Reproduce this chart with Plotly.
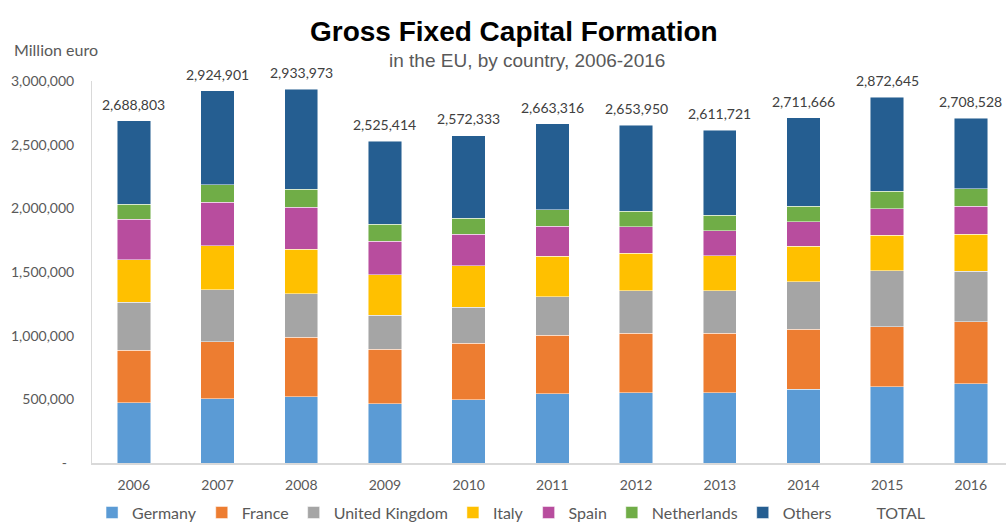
import plotly.graph_objects as go

years = ["2006", "2007", "2008", "2009", "2010", "2011", "2012", "2013", "2014", "2015", "2016"]

germany = [472000, 504000, 520000, 467000, 498000, 543000, 551000, 551000, 580000, 598000, 622000]
france = [415000, 449000, 469000, 428000, 444000, 462000, 469000, 469000, 470000, 473000, 488000]
united_kingdom = [375000, 406000, 342000, 267000, 283000, 299000, 331000, 331000, 375000, 438000, 396000]
italy = [336000, 347000, 349000, 315000, 323000, 320000, 297000, 276000, 276000, 278000, 289000]
spain = [315000, 341000, 328000, 263000, 247000, 234000, 207000, 197000, 194000, 210000, 221000]
netherlands = [121000, 137000, 142000, 136000, 129000, 129000, 124000, 121000, 123000, 137000, 138000]
others = [655000, 741000, 784000, 649000, 648000, 676000, 675000, 667000, 694000, 739000, 555000]
totals = [2688803, 2924901, 2933973, 2525414, 2572333, 2663316, 2653950, 2611721, 2711666, 2872645, 2708528]

series = [
    ("Germany", germany, "#5B9BD5"),
    ("France", france, "#ED7D31"),
    ("United Kingdom", united_kingdom, "#A5A5A5"),
    ("Italy", italy, "#FFC000"),
    ("Spain", spain, "#B84D9E"),
    ("Netherlands", netherlands, "#70AD47"),
    ("Others", others, "#255E91"),
]

y_tickvals = [0, 500000, 1000000, 1500000, 2000000, 2500000, 3000000]
y_ticktext = ["-\u00a0\u00a0", "500,000", "1,000,000", "1,500,000", "2,000,000", "2,500,000", "3,000,000"]

FONT = "Lato, 'Open Sans', sans-serif"

fig = go.Figure()
for name, vals, color in series:
    fig.add_trace(go.Bar(
        x=years, y=vals, name=name,
        marker=dict(color=color, line=dict(color="rgba(255,255,255,0.6)", width=0.8)),
        width=0.4,
    ))

# TOTAL legend entry (invisible line)
fig.add_trace(go.Scatter(
    x=years, y=totals, name="TOTAL", mode="lines",
    line=dict(color="rgba(0,0,0,0)", width=0),
    hoverinfo="skip",
))

annotations = []
for i, t in enumerate(totals):
    annotations.append(dict(
        x=i, y=t, xref="x", yref="y", text=f"{t:,}", showarrow=False,
        yanchor="bottom", yshift=6, font=dict(family=FONT, size=14, color="#404040"),
    ))

annotations += [
    dict(text="<b>Gross Fixed Capital Formation</b>", xref="paper", yref="paper",
         x=0.4617, y=1.1308, xanchor="center", yanchor="middle", showarrow=False,
         font=dict(family="Liberation Sans, Arial, sans-serif", size=28, color="#000000")),
    dict(text="in the EU, by country, 2006-2016", xref="paper", yref="paper",
         x=0.4754, y=1.0549, xanchor="center", yanchor="middle", showarrow=False,
         font=dict(family="Liberation Sans, Arial, sans-serif", size=19, color="#595959")),
    dict(text="Million euro", xref="paper", yref="paper",
         x=-0.0875, y=1.0837, xanchor="left", yanchor="middle", showarrow=False,
         font=dict(family=FONT, size=16, color="#595959")),
]

fig.update_layout(
    width=1006, height=522,
    margin=dict(l=92, r=0, t=81, b=59),
    barmode="stack",
    plot_bgcolor="white", paper_bgcolor="white",
    font=dict(family=FONT, color="#595959"),
    annotations=annotations,
    showlegend=True,
    legend=dict(
        orientation="h", xref="container", yref="container",
        x=0.508, y=0.018, xanchor="center", yanchor="middle",
        traceorder="normal", font=dict(family=FONT, size=16, color="#595959"),
        itemwidth=30,
    ),
    xaxis=dict(
        type="category", range=[-0.5, 10.42], showline=True, linecolor="#D9D9D9",
        linewidth=2, showgrid=False, ticks="", tickfont=dict(family=FONT, size=14, color="#595959"),
        ticklabelstandoff=8, zeroline=False,
    ),
    yaxis=dict(
        range=[0, 3000000], showline=True, linecolor="#D9D9D9", linewidth=1,
        showgrid=False, zeroline=False, ticks="", tickvals=y_tickvals, ticktext=y_ticktext,
        tickfont=dict(family=FONT, size=14, color="#595959"), ticklabelstandoff=14,
    ),
)

fig.write_html(
    "out.html",
    config={"displayModeBar": False},
    post_script="document.body.style.margin='0';document.body.style.overflow='hidden';",
)
